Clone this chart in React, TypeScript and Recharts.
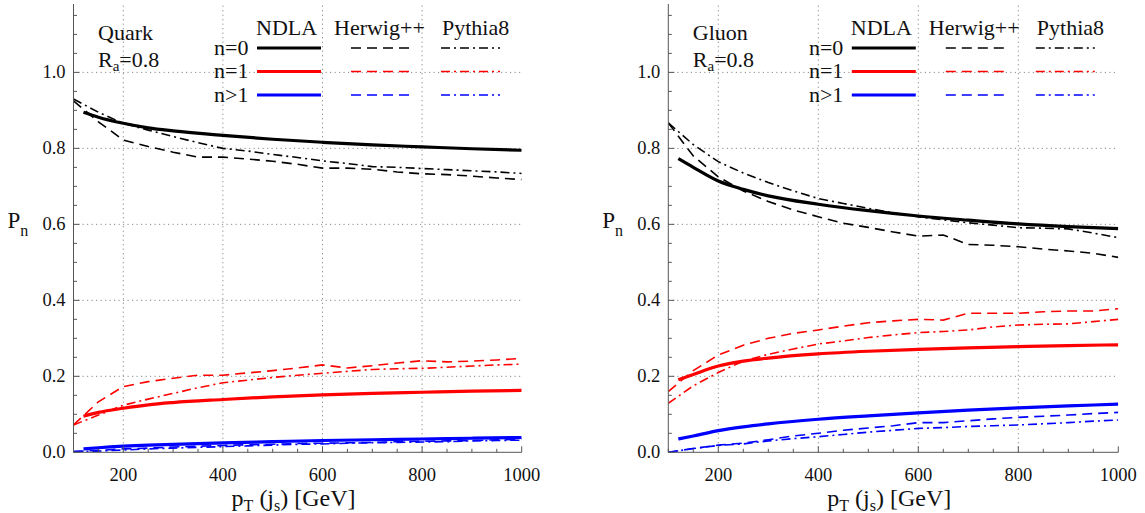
import React from 'react'
import { LineChart, Line, XAxis, YAxis, ReferenceLine } from 'recharts'

const FONT = '"Liberation Serif", "Times New Roman", serif'
const FRAME = '#555'
const GRID = '#8a8a8a'

// transverse momentum grids
const mcPt = [100, 150, 200, 250, 300, 350, 400, 450, 500, 550, 600, 650, 700, 750, 800, 850, 900, 950, 1000]
const ndlaPt = [120, 150, 200, 250, 300, 400, 500, 600, 700, 800, 900, 1000]

// quark jets
const quarkNdla0 = [0.895, 0.882, 0.866, 0.854, 0.846, 0.834, 0.824, 0.816, 0.809, 0.804, 0.799, 0.795]
const quarkNdla1 = [0.095, 0.105, 0.116, 0.125, 0.131, 0.139, 0.146, 0.151, 0.155, 0.158, 0.161, 0.163]
const quarkNdla2 = [0.009, 0.012, 0.016, 0.019, 0.021, 0.025, 0.028, 0.031, 0.033, 0.035, 0.037, 0.039]
const quarkHerwig0 = [0.925, 0.87, 0.822, 0.805, 0.79, 0.777, 0.777, 0.772, 0.766, 0.758, 0.748, 0.748, 0.745, 0.738, 0.733, 0.731, 0.727, 0.722, 0.718]
const quarkPythia0 = [0.93, 0.895, 0.866, 0.848, 0.831, 0.815, 0.8, 0.793, 0.784, 0.776, 0.767, 0.76, 0.752, 0.75, 0.747, 0.744, 0.741, 0.738, 0.734]
const quarkHerwig1 = [0.072, 0.133, 0.173, 0.186, 0.195, 0.203, 0.203, 0.209, 0.215, 0.222, 0.23, 0.222, 0.228, 0.235, 0.241, 0.238, 0.24, 0.243, 0.247]
const quarkPythia1 = [0.072, 0.098, 0.124, 0.14, 0.155, 0.17, 0.183, 0.19, 0.197, 0.203, 0.208, 0.213, 0.218, 0.22, 0.221, 0.224, 0.227, 0.23, 0.232]
const quarkHerwig2 = [0.002, 0.005, 0.009, 0.011, 0.014, 0.016, 0.018, 0.02, 0.021, 0.023, 0.024, 0.025, 0.026, 0.028, 0.029, 0.03, 0.031, 0.033, 0.034]
const quarkPythia2 = [0.002, 0.003, 0.006, 0.009, 0.011, 0.013, 0.015, 0.017, 0.019, 0.021, 0.022, 0.024, 0.025, 0.026, 0.027, 0.028, 0.03, 0.031, 0.032]

// gluon jets
const gluonNdla0 = [0.773, 0.75, 0.714, 0.692, 0.675, 0.653, 0.636, 0.622, 0.611, 0.601, 0.594, 0.589]
const gluonNdla1 = [0.191, 0.205, 0.227, 0.24, 0.248, 0.259, 0.266, 0.271, 0.275, 0.278, 0.281, 0.283]
const gluonNdla2 = [0.035, 0.043, 0.057, 0.067, 0.075, 0.087, 0.096, 0.104, 0.111, 0.117, 0.122, 0.127]
const gluonHerwig0 = [0.867, 0.78, 0.725, 0.688, 0.66, 0.638, 0.62, 0.603, 0.592, 0.58, 0.569, 0.572, 0.547, 0.545, 0.541, 0.535, 0.53, 0.524, 0.513]
const gluonPythia0 = [0.867, 0.81, 0.765, 0.735, 0.71, 0.688, 0.668, 0.655, 0.642, 0.63, 0.62, 0.612, 0.604, 0.598, 0.591, 0.59, 0.588, 0.577, 0.565]
const gluonHerwig1 = [0.16, 0.215, 0.256, 0.282, 0.3, 0.313, 0.322, 0.332, 0.341, 0.346, 0.35, 0.348, 0.366, 0.366, 0.366, 0.37, 0.372, 0.372, 0.378]
const gluonPythia1 = [0.129, 0.175, 0.21, 0.24, 0.258, 0.272, 0.285, 0.293, 0.302, 0.309, 0.315, 0.318, 0.322, 0.33, 0.335, 0.337, 0.338, 0.344, 0.35]
const gluonHerwig2 = [0.0, 0.01, 0.019, 0.024, 0.033, 0.043, 0.05, 0.058, 0.064, 0.07, 0.078, 0.078, 0.083, 0.088, 0.092, 0.095, 0.098, 0.102, 0.105]
const gluonPythia2 = [0.0, 0.01, 0.018, 0.022, 0.03, 0.036, 0.041, 0.047, 0.053, 0.058, 0.063, 0.065, 0.068, 0.07, 0.072, 0.075, 0.078, 0.082, 0.085]

// ticks
const xTicks = [100, 150, 200, 250, 300, 350, 400, 450, 500, 550, 600, 650, 700, 750, 800, 850, 900, 950, 1000]
const xLabels = [200, 400, 600, 800, 1000]
const xGrid = [200, 400, 600, 800]
const yTicks = [0, 0.05, 0.1, 0.15, 0.2, 0.25, 0.3, 0.35, 0.4, 0.45, 0.5, 0.55, 0.6, 0.65, 0.7, 0.75, 0.8, 0.85, 0.9, 0.95, 1.0, 1.05, 1.1, 1.15]
const yLabels = [0, 0.2, 0.4, 0.6, 0.8, 1.0]
const yGrid = [0.2, 0.4, 0.6, 0.8, 1.0]

const rows = (xs: number[], ys: number[]) => xs.map((x, i) => ({ x, y: ys[i] }))

const BLACK = '#000000'
const RED = '#ff0000'
const BLUE = '#0000ff'
const DASH = '10 6'
const DASHDOT = '9 4 2 4'

type Series = { key: string; data: { x: number; y: number }[]; color: string; kind: 'ndla' | 'herwig' | 'pythia' }

const makeSeries = (
  n0: number[], n1: number[], n2: number[],
  h0: number[], h1: number[], h2: number[],
  p0: number[], p1: number[], p2: number[],
): Series[] => [
  { key: 'h0', data: rows(mcPt, h0), color: BLACK, kind: 'herwig' },
  { key: 'p0', data: rows(mcPt, p0), color: BLACK, kind: 'pythia' },
  { key: 'h1', data: rows(mcPt, h1), color: RED, kind: 'herwig' },
  { key: 'p1', data: rows(mcPt, p1), color: RED, kind: 'pythia' },
  { key: 'h2', data: rows(mcPt, h2), color: BLUE, kind: 'herwig' },
  { key: 'p2', data: rows(mcPt, p2), color: BLUE, kind: 'pythia' },
  { key: 'n0', data: rows(ndlaPt, n0), color: BLACK, kind: 'ndla' },
  { key: 'n1', data: rows(ndlaPt, n1), color: RED, kind: 'ndla' },
  { key: 'n2', data: rows(ndlaPt, n2), color: BLUE, kind: 'ndla' },
]

const quarkSeries = makeSeries(quarkNdla0, quarkNdla1, quarkNdla2, quarkHerwig0, quarkHerwig1, quarkHerwig2, quarkPythia0, quarkPythia1, quarkPythia2)
const gluonSeries = makeSeries(gluonNdla0, gluonNdla1, gluonNdla2, gluonHerwig0, gluonHerwig1, gluonHerwig2, gluonPythia0, gluonPythia1, gluonPythia2)

const MAJOR = 6
const MINOR = 3.5
const isIn = (v: number, list: number[]) => list.some((l) => Math.abs(l - v) < 1e-6)

const BottomTick = (props: any) => {
  const { x, y, payload } = props
  const v = payload.value
  const major = isIn(v, xLabels)
  return (
    <g>
      <line x1={x} x2={x} y1={y} y2={y - (major ? MAJOR : MINOR)} stroke={FRAME} />
      {major && (
        <text x={x} y={y + 28.5} textAnchor="middle" fontSize={18.5} fontFamily={FONT} fill="#111">
          {v}
        </text>
      )}
    </g>
  )
}

const TopTick = (props: any) => {
  const { x, y, payload } = props
  const major = isIn(payload.value, xLabels)
  return <line x1={x} x2={x} y1={y} y2={y + (major ? MAJOR : MINOR)} stroke={FRAME} />
}

const LeftTick = (props: any) => {
  const { x, y, payload } = props
  const v = payload.value
  const major = isIn(v, yLabels)
  return (
    <g>
      <line x1={x} x2={x + (major ? MAJOR : MINOR)} y1={y} y2={y} stroke={FRAME} />
      {major && (
        <text x={x - 8} y={y + 6} textAnchor="end" fontSize={18.5} fontFamily={FONT} fill="#111">
          {v.toFixed(1)}
        </text>
      )}
    </g>
  )
}

const RightTick = (props: any) => {
  const { x, y, payload } = props
  const major = isIn(payload.value, yLabels)
  return <line x1={x} x2={x - (major ? MAJOR : MINOR)} y1={y} y2={y} stroke={FRAME} />
}

function Panel({ left, width, yAxisWidth, marginRight, series }: { left: number; width: number; yAxisWidth: number; marginRight: number; series: Series[] }) {
  return (
    <div style={{ position: 'absolute', left, top: 0 }}>
      <LineChart width={width} height={513} margin={{ top: 4, right: marginRight, bottom: 30.7, left: 0 }}>
        <XAxis
          type="number"
          dataKey="x"
          domain={[100, 1000]}
          ticks={xTicks}
          interval={0}
          height={30}
          tickSize={0}
          tickMargin={0}
          tickLine={false}
          axisLine={{ stroke: FRAME }}
          tick={BottomTick}
          allowDataOverflow
        />
        <XAxis
          xAxisId="top"
          orientation="top"
          type="number"
          dataKey="x"
          domain={[100, 1000]}
          ticks={xTicks}
          interval={0}
          height={0}
          tickSize={0}
          tickMargin={0}
          tickLine={false}
          axisLine={{ stroke: FRAME }}
          tick={TopTick}
          allowDataOverflow
        />
        <YAxis
          type="number"
          domain={[0, 1.18]}
          ticks={yTicks}
          interval={0}
          width={yAxisWidth}
          tickSize={0}
          tickMargin={0}
          tickLine={false}
          axisLine={{ stroke: FRAME }}
          tick={LeftTick}
          allowDataOverflow
        />
        <YAxis
          yAxisId="right"
          orientation="right"
          type="number"
          domain={[0, 1.18]}
          ticks={yTicks}
          interval={0}
          width={0}
          tickSize={0}
          tickMargin={0}
          tickLine={false}
          axisLine={{ stroke: FRAME }}
          tick={RightTick}
          allowDataOverflow
        />
        {yGrid.map((v) => (
          <ReferenceLine key={'gy' + v} y={v} stroke={GRID} strokeDasharray="1.2 3.3" />
        ))}
        {xGrid.map((v) => (
          <ReferenceLine key={'gx' + v} x={v} stroke={GRID} strokeDasharray="1.2 3.3" />
        ))}
        {series.map((s) => (
          <Line
            key={s.key}
            data={s.data}
            dataKey="y"
            type={s.kind === 'ndla' ? 'monotone' : 'linear'}
            stroke={s.color}
            strokeWidth={s.kind === 'ndla' ? 3.2 : 1.6}
            strokeDasharray={s.kind === 'herwig' ? DASH : s.kind === 'pythia' ? DASHDOT : undefined}
            dot={false}
            activeDot={false}
            isAnimationActive={false}
          />
        ))}
      </LineChart>
    </div>
  )
}

function Legend({ L, title }: { L: number; title: string }) {
  const rowsY = [48, 71.5, 95]
  const labels = ['n=0', 'n=1', 'n>1']
  const colors = [BLACK, RED, BLUE]
  return (
    <g fontFamily={FONT} fill="#111">
      <text x={L + 24.5} y={39.5} fontSize={22}>{title}</text>
      <text x={L + 24.5} y={66.5} fontSize={22}>
        R<tspan fontSize={15} dy={4}>a</tspan>
        <tspan dy={-4}>=0.8</tspan>
      </text>
      <text x={L + 182.5} y={35} fontSize={22}>NDLA</text>
      <text x={L + 260.5} y={35} fontSize={22}>Herwig++</text>
      <text x={L + 368.5} y={35} fontSize={22}>Pythia8</text>
      {rowsY.map((ry, i) => (
        <g key={i}>
          <text x={L + 175} y={ry + 6.5} fontSize={22} textAnchor="end">{labels[i]}</text>
          <line x1={L + 183.5} x2={L + 247.5} y1={ry} y2={ry} stroke={colors[i]} strokeWidth={3.2} />
          <line x1={L + 277.5} x2={L + 336.5} y1={ry} y2={ry} stroke={colors[i]} strokeWidth={1.6} strokeDasharray={DASH} />
          <line x1={L + 367.5} x2={L + 426.5} y1={ry} y2={ry} stroke={colors[i]} strokeWidth={1.6} strokeDasharray={DASHDOT} />
        </g>
      ))}
    </g>
  )
}

function AxisLabels({ L, R }: { L: number; R: number }) {
  const cx = (L + R) / 2
  return (
    <g fontFamily={FONT} fill="#111">
      <text x={L - 66} y={228} fontSize={23}>
        P<tspan fontSize={16} dy={8}>n</tspan>
      </text>
      <text x={cx - 4} y={506} fontSize={24} textAnchor="middle">
        p<tspan fontSize={16} dy={5}>T</tspan>
        <tspan dy={-5}> (j</tspan>
        <tspan fontSize={16} dy={5}>s</tspan>
        <tspan dy={-5}>) [GeV]</tspan>
      </text>
    </g>
  )
}

export default function App() {
  return (
    <div style={{ position: 'absolute', left: 0, top: 0, width: 1145, height: 513, background: '#fff', fontFamily: FONT }}>
      <Panel left={0} width={560} yAxisWidth={73.5} marginRight={38.3} series={quarkSeries} />
      <Panel left={590} width={555} yAxisWidth={78.3} marginRight={26.7} series={gluonSeries} />
      <svg width={1145} height={513} style={{ position: 'absolute', left: 0, top: 0, pointerEvents: 'none' }}>
        <Legend L={73.5} title="Quark" />
        <Legend L={668.3} title="Gluon" />
        <AxisLabels L={73.5} R={521.7} />
        <AxisLabels L={668.3} R={1118.3} />
      </svg>
    </div>
  )
}
